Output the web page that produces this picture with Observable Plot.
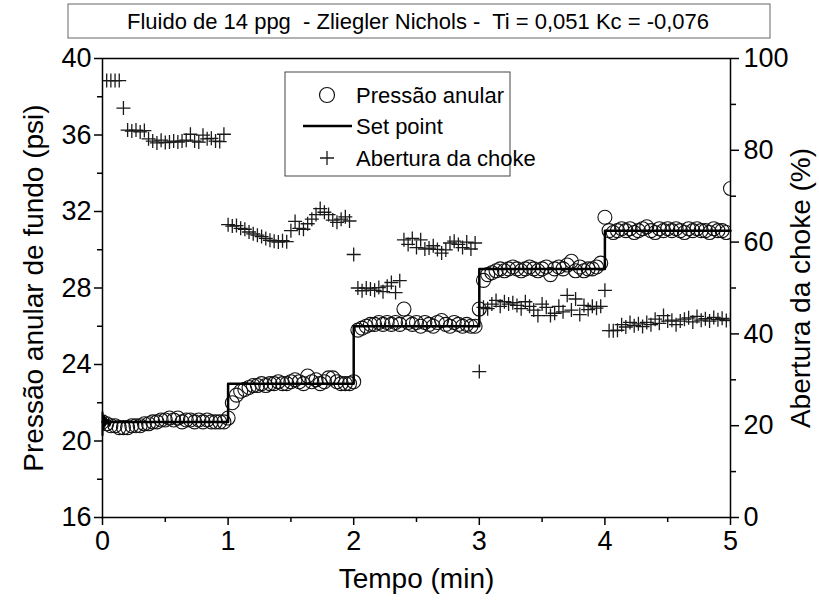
<!DOCTYPE html>
<html><head><meta charset="utf-8">
<script src="https://cdn.jsdelivr.net/npm/d3@7"></script>
<script src="https://cdn.jsdelivr.net/npm/@observablehq/plot@0.6"></script>
<style>body{margin:0;background:#fff}#chart{width:819px;height:612px}</style>
</head><body><div id="chart"></div>
<script>
// sampling interval of the logged series (minutes)
const sampleMin = 1 / 30;

// Pressão anular (psi), one value per sample from t = 0 to t = 5 min
const pressure = [
  21.0, 20.9, 20.8, 20.8, 20.7, 20.7, 20.7, 20.8, 20.8, 20.8, 20.9, 20.9, 21.0, 21.0, 21.1, 21.1, 21.2, 21.1, 21.2, 21.0, 21.1, 21.1, 21.0, 21.1, 21.0, 21.1, 21.0, 21.0, 21.0, 21.0,
  21.2, 22.0, 22.4, 22.6, 22.7, 22.8, 22.9, 22.9, 23.0, 22.9, 23.0, 23.0, 23.1, 23.0, 23.0, 23.1, 23.2, 23.1, 23.0, 23.4, 23.1, 23.2, 23.0, 23.1, 23.3, 23.3, 23.1, 23.0, 23.0, 23.0,
  23.1, 25.8, 25.9, 26.0, 26.1, 26.1, 26.2, 26.1, 26.2, 26.1, 26.2, 26.1, 26.9, 26.2, 26.1, 26.2, 26.0, 26.2, 26.1, 26.0, 26.2, 26.3, 26.1, 26.0, 26.2, 26.1, 26.0, 26.1, 26.0, 26.0,
  26.9, 28.4, 28.7, 28.8, 28.9, 29.0, 28.9, 29.0, 29.1, 29.0, 28.9, 29.0, 29.1, 29.0, 28.9, 29.0, 29.1, 28.7, 29.0, 29.1, 29.0, 29.2, 29.4, 28.9, 29.1, 28.9, 29.0, 29.0, 29.1, 29.3,
  31.7, 31.0, 30.9, 31.0, 31.1, 31.0, 31.1, 30.9, 31.0, 31.1, 31.2, 31.0, 30.9, 31.1, 31.0, 31.1, 31.0, 31.1, 31.0, 30.9, 31.1, 31.0, 31.1, 31.0, 31.0, 30.9, 31.1, 31.0, 31.0, 30.9, 33.2
];

// Abertura da choke (%), same sampling (first sample not logged)
const choke = [
  null, 95.2, 95.2, 95.2, 95.2, 89.2, 84.4, 84.2, 84.4, 84.0, 84.3, 82.5, 82.0, 81.6, 82.2, 81.7, 81.8, 82.0, 81.8, 82.0, 82.2, 83.5, 82.0, 81.8, 83.3, 82.5, 82.6, 82.0, 81.9, 83.5,
  63.8, 63.5, 63.6, 63.0, 62.8, 62.2, 61.8, 61.5, 61.2, 60.8, 60.4, 60.2, 60.0, 60.3, 60.1, 62.5, 64.5, 63.0, 62.8, 64.0, 65.0, 66.0, 67.3, 66.5, 66.0, 64.8, 64.3, 65.0, 65.5, 64.6,
  57.3, 50.0, 49.4, 50.0, 49.8, 49.5, 50.1, 49.2, 50.4, 51.2, 49.0, 51.6, 60.5, 59.5, 60.8, 58.8, 60.5, 58.5, 58.7, 59.2, 58.4, 57.6, 58.3, 59.8, 60.2, 59.5, 58.8, 60.0, 58.5, 59.8,
  31.8, 45.8, 45.5, 46.5, 47.3, 46.0, 47.0, 46.5, 46.8, 46.2, 45.5, 47.0, 46.0, 45.2, 44.0, 46.5, 45.8, 44.0, 44.5, 46.0, 44.8, 48.4, 45.2, 47.6, 44.2, 46.2, 45.3, 46.0, 45.6, 46.0,
  49.5, 40.7, 40.7, 40.8, 42.0, 41.5, 42.5, 41.8, 42.2, 41.6, 42.5, 42.0, 43.2, 42.3, 44.0, 42.8, 43.0, 42.0, 42.8, 43.2, 43.5, 42.6, 43.8, 43.0, 43.3, 42.8, 43.6, 43.1, 43.4, 42.9, 43.2
];

// Set point (psi)
const setTime = [0, 1, 2, 3, 4, 5];
const setValue = [21, 23, 26, 29, 31, 31];
// initial transient burst at t = 0
const burstTime = [0, 0, 0.006, 0.012, 0.02, 0.028, 0.036, 0.046, 0.056, 0.066];
const burstValue = [20.3, 21.5, 20.6, 21.3, 20.8, 21.2, 20.9, 21.1, 20.8, 21.0];

// axes
const xTicks = [0, 1, 2, 3, 4, 5];
const xMinor = [0.5, 1.5, 2.5, 3.5, 4.5];
const yTicks = [16, 20, 24, 28, 32, 36, 40];
const yMinor = [18, 22, 26, 30, 34, 38];
const chokeTicks = [0, 20, 40, 60, 80, 100];
const chokeMinor = [10, 30, 50, 70, 90];
const yDomain = [16, 40];
const chokeDomain = [0, 100];

const titleText = "Fluido de 14 ppg  - Zliegler Nichols -  Ti = 0,051 Kc = -0,076";
const xLabel = "Tempo (min)";
const yLabel = "Pressão anular de fundo (psi)";
const y2Label = "Abertura da choke (%)";
const legendNames = ["Pressão anular", "Set point", "Abertura da choke"];

// map choke % to the pressure scale so both share the plot's y scale
const toY = p => yDomain[0] + (p - chokeDomain[0]) * (yDomain[1] - yDomain[0]) / (chokeDomain[1] - chokeDomain[0]);
const fromY = v => chokeDomain[0] + (v - yDomain[0]) * (chokeDomain[1] - chokeDomain[0]) / (yDomain[1] - yDomain[0]);

const pRows = pressure.map((v, i) => ({t: i * sampleMin, v}));
const cRows = choke.map((v, i) => ({t: i * sampleMin, v})).filter(d => d.v != null);
const sRows = setTime.map((t, i) => ({t, v: setValue[i]}));
const bRows = burstTime.map((t, i) => ({t, v: burstValue[i]}));

const plusSymbol = {
  draw(ctx, size) {
    const r = Math.sqrt(size / Math.PI);
    ctx.moveTo(-r, 0); ctx.lineTo(r, 0);
    ctx.moveTo(0, -r); ctx.lineTo(0, r);
  }
};

const FS = 27;
const plot = Plot.plot({
  width: 819, height: 612,
  marginLeft: 102, marginRight: 89, marginTop: 58, marginBottom: 95,
  x: {domain: [0, 5]},
  y: {domain: yDomain},
  style: {fontFamily: "'Liberation Sans', Arial, sans-serif", background: "white", color: "black"},
  marks: [
    Plot.dot(cRows, {x: "t", y: d => toY(d.v), symbol: plusSymbol, r: 7, stroke: "#1a1a1a", strokeWidth: 1.3, clip: true}),
    Plot.dot(pRows, {x: "t", y: "v", symbol: "circle", r: 7, stroke: "#111", strokeWidth: 1.1, fill: "none", clip: true}),
    Plot.line(sRows, {x: "t", y: "v", curve: "step-after", stroke: "black", strokeWidth: 2.5}),
    Plot.line(bRows, {x: "t", y: "v", stroke: "black", strokeWidth: 2}),
    Plot.frame({stroke: "black", strokeWidth: 1.5}),
    Plot.axisX(xTicks, {tickSize: 8, tickPadding: 5, fontSize: FS, label: null, strokeWidth: 1.5, tickFormat: d => String(d)}),
    Plot.axisX(xMinor, {tickSize: 5, tickFormat: () => "", label: null, strokeWidth: 1.5}),
    Plot.axisY(yTicks, {tickSize: 8, tickPadding: 3, fontSize: FS, label: null, strokeWidth: 1.5, tickFormat: d => String(d)}),
    Plot.axisY(yMinor, {tickSize: 5, tickFormat: () => "", label: null, strokeWidth: 1.5}),
    Plot.axisY(chokeTicks.map(toY), {anchor: "right", tickSize: 8, tickPadding: 5, fontSize: FS, label: null, strokeWidth: 1.5, tickFormat: v => String(Math.round(fromY(v)))}),
    Plot.axisY(chokeMinor.map(toY), {anchor: "right", tickSize: 5, tickFormat: () => "", label: null, strokeWidth: 1.5}),
    Plot.text([xLabel], {frameAnchor: "bottom", dy: 70, fontSize: 28, textAnchor: "middle", text: d => d}),
    Plot.text([yLabel], {frameAnchor: "left", dx: -68, rotate: -90, fontSize: 28, textAnchor: "middle", text: d => d}),
    Plot.text([y2Label], {frameAnchor: "right", dx: 71, rotate: -90, fontSize: 28, textAnchor: "middle", text: d => d})
  ]
});

const svg = d3.select(plot);
// title box
const tg = svg.append("g");
tg.append("rect").attr("x", 68).attr("y", 4).attr("width", 702).attr("height", 34)
  .attr("fill", "white").attr("stroke", "#666").attr("stroke-width", 1);
tg.append("text").attr("x", 418).attr("y", 21).attr("text-anchor", "middle").attr("dominant-baseline", "central")
  .attr("font-size", 22).attr("fill", "black").text(titleText);

// legend
const lg = svg.append("g").attr("font-size", 22).attr("fill", "black");
lg.append("rect").attr("x", 285).attr("y", 72).attr("width", 225).attr("height", 104)
  .attr("fill", "white").attr("stroke", "#444").attr("stroke-width", 1);
lg.append("circle").attr("cx", 327).attr("cy", 95).attr("r", 7.5).attr("fill", "none").attr("stroke", "#111").attr("stroke-width", 1.2);
lg.append("line").attr("x1", 303).attr("x2", 352).attr("y1", 126).attr("y2", 126).attr("stroke", "black").attr("stroke-width", 2.5);
lg.append("path").attr("d", "M320,158H334M327,151V165").attr("stroke", "#1a1a1a").attr("stroke-width", 1.3);
legendNames.forEach((n, i) => {
  lg.append("text").attr("x", 356).attr("y", [95, 126, 158][i]).attr("text-anchor", "start")
    .attr("dominant-baseline", "central").text(n);
});

document.getElementById("chart").appendChild(plot);
</script></body></html>
